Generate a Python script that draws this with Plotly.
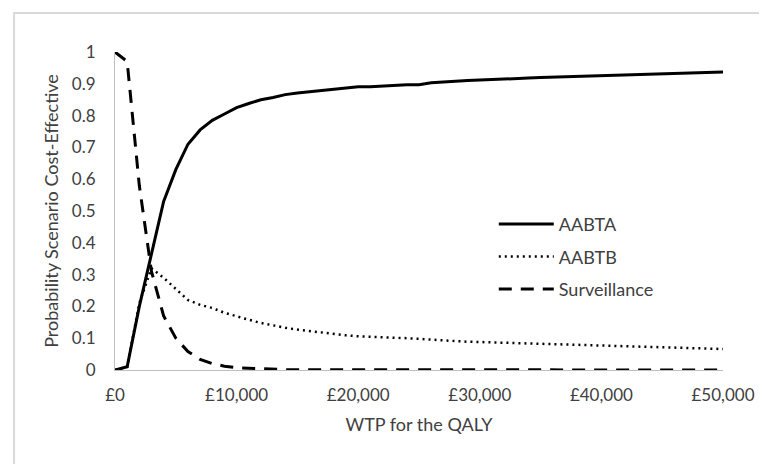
import plotly.graph_objects as go

# Willingness-to-pay thresholds (GBP per QALY)
wtp = [0, 1000, 2000, 3000, 4000, 5000, 6000, 7000, 8000, 9000,
       10000, 11000, 12000, 13000, 14000, 15000, 16000, 17000, 18000, 19000,
       20000, 21000, 22000, 23000, 24000, 25000, 26000, 27000, 28000, 29000,
       30000, 31000, 32000, 33000, 34000, 35000, 36000, 37000, 38000, 39000,
       40000, 41000, 42000, 43000, 44000, 45000, 46000, 47000, 48000, 49000,
       50000]

aabta = [0.00, 0.01, 0.20, 0.37, 0.53, 0.63, 0.71, 0.755, 0.785, 0.805,
         0.825, 0.838, 0.850, 0.857, 0.866, 0.871, 0.875, 0.880, 0.885, 0.889,
         0.891, 0.891, 0.893, 0.896, 0.897, 0.897, 0.903, 0.906, 0.909, 0.910,
         0.912, 0.913, 0.915, 0.917, 0.918, 0.920, 0.921, 0.922, 0.924, 0.925,
         0.927, 0.928, 0.929, 0.930, 0.931, 0.932, 0.933, 0.934, 0.935, 0.936,
         0.937]

aabtb = [0.00, 0.01, 0.21, 0.32, 0.29, 0.255, 0.22, 0.205, 0.195, 0.18,
         0.168, 0.158, 0.148, 0.140, 0.133, 0.127, 0.122, 0.117, 0.113, 0.109,
         0.106, 0.105, 0.104, 0.102, 0.100, 0.098, 0.095, 0.093, 0.091, 0.089,
         0.088, 0.087, 0.085, 0.084, 0.083, 0.081, 0.080, 0.079, 0.078, 0.077,
         0.076, 0.075, 0.074, 0.073, 0.072, 0.071, 0.070, 0.069, 0.068, 0.067,
         0.066]

surveillance = [1.00, 0.97, 0.58, 0.31, 0.17, 0.10, 0.058, 0.033, 0.02, 0.012,
                0.007, 0.005, 0.003, 0.002, 0.001, 0.001, 0.001, 0.0, 0.0, 0.0,
                0.0, 0.0, 0.0, 0.0, 0.0, 0.0, 0.0, 0.0, 0.0, 0.0,
                0.0, 0.0, 0.0, 0.0, 0.0, 0.0, 0.0, 0.0, 0.0, 0.0,
                0.0, 0.0, 0.0, 0.0, 0.0, 0.0, 0.0, 0.0, 0.0, 0.0,
                0.0]

x_ticks = [0, 10000, 20000, 30000, 40000, 50000]
x_ticklabels = ["£0", "£10,000", "£20,000", "£30,000", "£40,000", "£50,000"]
y_ticks = [0, 0.1, 0.2, 0.3, 0.4, 0.5, 0.6, 0.7, 0.8, 0.9, 1]
y_ticklabels = ["0", "0.1", "0.2", "0.3", "0.4", "0.5", "0.6", "0.7", "0.8", "0.9", "1"]

FONT = "Lato, Open Sans, sans-serif"
TEXT = "#404040"

fig = go.Figure()
fig.add_trace(go.Scatter(x=wtp, y=aabta, mode="lines", name="AABTA", legendgroup="a",
                         line=dict(color="black", width=3)))
fig.add_trace(go.Scatter(x=wtp, y=aabtb, mode="lines", name="AABTB", legendgroup="b",
                         line=dict(color="black", width=2.5, dash="2px,4px")))
fig.add_trace(go.Scatter(x=wtp, y=surveillance, mode="lines", name="Surveillance",
                         legendgroup="c",
                         line=dict(color="black", width=3, dash="13px,9px")))

# page body has an 8px margin, so the figure is 8px smaller than the window
fig.update_layout(
    width=759,
    height=456,
    margin=dict(l=107, r=44, t=44, b=94),
    paper_bgcolor="white",
    plot_bgcolor="white",
    font={"family": FONT, "size": 17, "color": TEXT},
    legend=dict(
        x=0.623, y=0.516, xanchor="left", yanchor="top",
        bgcolor="rgba(0,0,0,0)",
        font={"size": 18, "color": TEXT},
        itemwidth=55,
        tracegroupgap=6,
    ),
    xaxis=dict(
        range=[0, 50000],
        tickvals=x_ticks,
        ticktext=x_ticklabels,
        showgrid=False,
        zeroline=False,
        showline=True,
        linecolor="#bfbfbf",
        linewidth=1,
        ticks="",
        ticklabelstandoff=10,
        tickfont={"size": 17, "color": TEXT},
        title={"text": "WTP for the QALY", "font": {"size": 18, "color": TEXT},
               "standoff": 13},
    ),
    yaxis=dict(
        range=[0, 1],
        tickvals=y_ticks,
        ticktext=y_ticklabels,
        showgrid=False,
        zeroline=False,
        showline=True,
        linecolor="#bfbfbf",
        linewidth=1,
        ticks="",
        ticklabelstandoff=15,
        tickfont={"size": 17, "color": TEXT},
        title={"text": "Probability Scenario Cost-Effective",
               "font": {"size": 18, "color": TEXT}, "standoff": 8},
    ),
)

# light grey chart-area border, as in the Excel export
fig.add_shape(type="rect", xref="paper", yref="paper",
              x0=-0.166, x1=1.0707, y0=-0.33, y1=1.1226,
              line=dict(color="#d9d9d9", width=2), fillcolor="rgba(0,0,0,0)",
              layer="below")

fig.write_html("out.html")
